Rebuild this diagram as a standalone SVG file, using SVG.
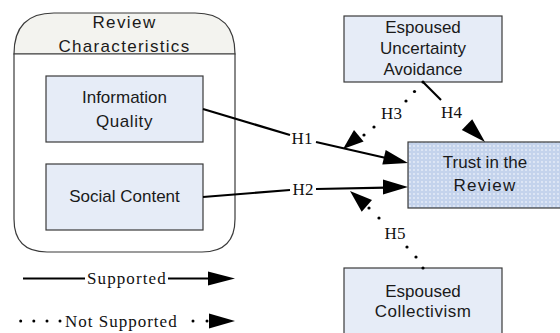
<svg xmlns="http://www.w3.org/2000/svg" width="560" height="333" viewBox="0 0 560 333">
<defs>
<style>
.box{fill:#e6ecf7;stroke:#3a3a3a;stroke-width:1.2}
.node{font-family:"Liberation Sans",Arial,sans-serif;font-size:17px;fill:#1a1a1a;text-anchor:middle}
.hyp{font-family:"Liberation Serif","Times New Roman",serif;font-size:17px;fill:#111;text-anchor:middle}
.leg{font-family:"Liberation Serif","Times New Roman",serif;font-size:17px;fill:#111}
.solid{fill:none;stroke:#000;stroke-width:2.2}
.d{fill:#000}
.head{fill:#000}
</style>
<pattern id="dots" width="4" height="4" patternUnits="userSpaceOnUse">
<rect width="4" height="4" fill="#c4d3ec"/>
<circle cx="2" cy="2" r="0.9" fill="#e8eef9"/>
</pattern>
</defs>

<g id="review-characteristics">
<path d="M14,54 Q14,13 54,13 L195,13 Q235,13 235,54 Z" fill="#f3f3ef" stroke="#3a3a3a" stroke-width="1.2"/>
<path d="M14,54 L235,54 L235,219 Q235,252 202,252 L47,252 Q14,252 14,219 Z" fill="#ffffff" stroke="#3a3a3a" stroke-width="1.2"/>
<text class="node" x="124.5" y="28" letter-spacing="1.4">Review</text>
<text class="node" x="124.5" y="52" letter-spacing="1.3">Characteristics</text>
</g>

<g id="information-quality">
<rect class="box" x="46" y="76" width="157" height="66"/>
<text class="node" x="124.5" y="103">Information</text>
<text class="node" x="124.5" y="127" letter-spacing="0.6">Quality</text>
</g>

<g id="social-content">
<rect class="box" x="46" y="164" width="157" height="66"/>
<text class="node" x="124.5" y="202">Social Content</text>
</g>

<g id="uncertainty-avoidance">
<rect class="box" x="344" y="16" width="158" height="66"/>
<text class="node" x="423" y="33">Espoused</text>
<text class="node" x="423" y="54">Uncertainty</text>
<text class="node" x="423" y="75">Avoidance</text>
</g>

<g id="trust">
<rect x="408" y="142" width="160" height="66" fill="url(#dots)" stroke="#3a3a3a" stroke-width="1.2"/>
<text class="node" x="485" y="168">Trust in the</text>
<text class="node" x="485" y="191" letter-spacing="1.2">Review</text>
</g>

<g id="collectivism">
<rect class="box" x="344" y="268" width="158" height="70"/>
<text class="node" x="423" y="297">Espoused</text>
<text class="node" x="423" y="317" letter-spacing="0.5">Collectivism</text>
</g>

<g id="connectors">
<!-- H1 -->
<path class="solid" d="M203,109 L290,135"/>
<path class="solid" d="M316,142 L386,158"/>
<polygon class="head" points="408,163 382.3,164.5 385.7,149.9"/>
<!-- H2 -->
<path class="solid" d="M203,197 L290,190"/>
<path class="solid" d="M316,189 L386,187.6"/>
<polygon class="head" points="408,187 383,194.5 383,179.5"/>
<!-- H3 (dotted) -->
<circle class="d" cx="423" cy="82" r="1.6"/>
<circle class="d" cx="414.5" cy="91.5" r="1.6"/>
<circle class="d" cx="406" cy="101" r="1.6"/>
<circle class="d" cx="374" cy="127" r="1.6"/>
<circle class="d" cx="364" cy="135" r="1.6"/>
<polygon class="head" points="343,149 363.6,141.5 354,130"/>
<!-- H4 -->
<path class="solid" d="M423,82 L441,100"/>
<polygon class="head" points="485,142 461.8,130 472.2,119.2"/>
<!-- H5 (dotted) -->
<circle class="d" cx="423" cy="268" r="1.6"/>
<circle class="d" cx="416" cy="257" r="1.6"/>
<circle class="d" cx="407" cy="247" r="1.6"/>
<circle class="d" cx="379" cy="218" r="1.6"/>
<circle class="d" cx="369" cy="208" r="1.6"/>
<polygon class="head" points="350,191 361.7,211.7 372,200"/>
<!-- labels -->
<text class="hyp" x="302" y="144">H1</text>
<text class="hyp" x="303" y="195">H2</text>
<text class="hyp" x="391.5" y="119">H3</text>
<text class="hyp" x="451.5" y="118">H4</text>
<text class="hyp" x="395" y="239">H5</text>
</g>

<g id="legend">
<path class="solid" d="M23,278.5 L85,278.5"/>
<text class="leg" x="87" y="284" letter-spacing="1.1">Supported</text>
<path class="solid" d="M168,278.5 L212,278.5"/>
<polygon class="head" points="235,278.5 208,271.5 208,285.5"/>
<circle class="d" cx="20.7" cy="321" r="1.5"/>
<circle class="d" cx="33.8" cy="321" r="1.5"/>
<circle class="d" cx="47" cy="321" r="1.5"/>
<circle class="d" cx="60" cy="321" r="1.5"/>
<text class="leg" x="65" y="327" letter-spacing="1">Not Supported</text>
<circle class="d" cx="193" cy="321" r="1.5"/>
<circle class="d" cx="207" cy="321" r="1.5"/>
<polygon class="head" points="235,321 209,313.5 209,328.5"/>
</g>
</svg>
